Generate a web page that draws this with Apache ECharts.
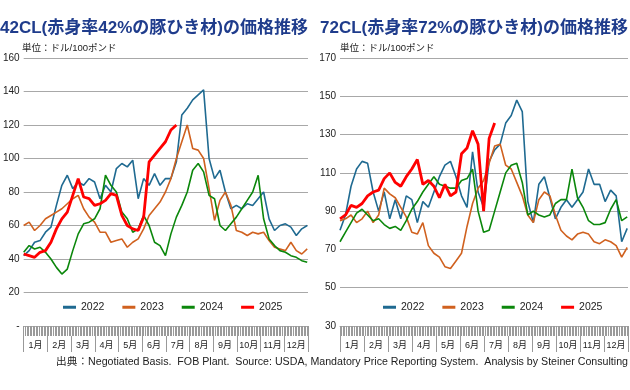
<!DOCTYPE html>
<html><head><meta charset="utf-8">
<script src="https://cdn.jsdelivr.net/npm/echarts@6/dist/echarts.min.js"></script>
<style>html,body{margin:0;padding:0;background:#fff}#c{width:630px;height:390px}</style>
</head><body><div id="c"></div>
<script>
const months = ['1月','2月','3月','4月','5月','6月','7月','8月','9月','10月','11月','12月'];
const years = ['2022','2023','2024','2025'];
const STEP_DAYS = 7;
// 42CL weekly values
const cl42_2022 = [42,45,50,51,56,59,72,84,90,82,86,84,88,86,76,84,80,94,97,95,99,76,88,84,91,84,88,88,98,126,130,135,138,141,100,88,93,80,70,72,70,73,72,76,80,64,57,60,61,59,54,58,60];
const cl42_2023 = [60,62,57,60,64,66,68,70,73,76,78,70,65,62,56,56,50,51,52,47,50,52,58,66,70,74,80,88,100,110,120,106,105,100,82,63,75,80,72,57,56,54,56,55,56,51,47,46,45,50,45,43,46];
const cl42_2024 = [44,48,46,47,44,40,35,31,34,45,55,61,62,64,70,90,84,80,68,64,56,58,66,60,50,48,42,55,65,72,80,93,97,92,78,76,60,57,61,65,70,75,80,90,64,52,48,45,44,42,41,39,38];
const cl42_2025 = [43,42,41,44,45,50,58,64,68,78,88,77,76,72,73,75,79,78,66,60,58,57,65,98,102,106,110,117,120];
// 72CL weekly values
const cl72_2022 = [80,88,103,112,116,115,100,90,100,86,96,86,98,96,84,95,92,100,108,114,116,108,98,92,121,100,92,116,122,125,136,140,148,142,95,84,104,108,97,86,92,96,92,96,100,112,104,104,95,101,98,74,81];
const cl72_2023 = [85,86,88,84,86,90,84,88,102,99,97,92,87,79,78,84,72,68,66,61,60,64,68,82,94,102,106,115,124,125,114,112,105,98,88,84,96,100,98,88,80,77,75,78,79,78,74,73,75,74,72,66,71];
const cl72_2024 = [74,79,84,89,91,88,85,86,83,81,82,80,85,91,95,100,104,108,104,103,102,102,106,107,112,90,79,80,90,100,110,114,115,105,88,90,88,87,88,94,96,96,112,97,92,85,83,83,84,91,96,85,87];
const cl72_2025 = [86,88,93,92,94,98,100,101,107,110,105,103,108,112,117,104,106,103,97,104,98,100,120,123,132,125,90,128,136];

const colors = {'2022':'#1f6a91','2023':'#d0611f','2024':'#0b870b','2025':'#ff0000'};
const widths = {'2022':1.6,'2023':1.6,'2024':1.6,'2025':2.8};
const toPts = arr => arr.map((v,i)=>[i*STEP_DAYS, v]);
const LAT = "'Liberation Sans','Noto Sans CJK JP',sans-serif";

function mkSeries(name, arr, g){
  return {name, type:'line', xAxisIndex:g*2, yAxisIndex:g, data:toPts(arr), showSymbol:false,
    lineStyle:{color:colors[name], width:widths[name]}, itemStyle:{color:colors[name]}, animation:false, z: name==='2025'?5:3};
}
function xAxes(g){
  return [
    {type:'value', gridIndex:g, min:0, max:365, interval:2, position:'bottom',
     axisLine:{show:true, lineStyle:{color:'#aaa'}}, axisTick:{show:true, length:10, lineStyle:{color:'#9a9a9a', width:1}},
     axisLabel:{show:false}, splitLine:{show:false}},
    {type:'category', gridIndex:g, data:months, position:'bottom', offset:10, boundaryGap:true,
     axisLine:{show:false}, axisTick:{show:true, interval:0, length:16, lineStyle:{color:'#999'}},
     axisLabel:{interval:0, fontSize:9, color:'#222', margin:5, fontFamily:LAT}, splitLine:{show:false}}
  ];
}
const titleStyle = {fontSize:17, fontWeight:'bold', color:'#1f3c8c', fontFamily:LAT};
const subStyle = {fontSize:9.5, fontWeight:'normal', color:'#222', fontFamily:LAT};
const legendBase = {data:years, top:302, padding:0, icon:'rect', itemWidth:13, itemHeight:3, itemGap:18, textStyle:{fontSize:10.5, color:'#222', fontFamily:LAT}};
const chart = echarts.init(document.getElementById('c'), null, {renderer:'canvas'});
chart.setOption({
  animation:false,
  textStyle:{fontFamily:LAT},
  title:[
    {text:'42CL(赤身率42%の豚ひき材)の価格推移', left:0, top:20, padding:0, textStyle:titleStyle},
    {text:'72CL(赤身率72%の豚ひき材)の価格推移', left:320, top:20, padding:0, textStyle:titleStyle},
    {text:'単位：ドル/100ポンド', left:22, top:44, padding:0, textStyle:subStyle},
    {text:'単位：ドル/100ポンド', left:340, top:44, padding:0, textStyle:subStyle}
  ],
  legend:[
    Object.assign({left:63}, legendBase),
    Object.assign({left:383}, legendBase)
  ],
  grid:[
    {left:20, right:322, top:58, bottom:64, containLabel:false},
    {left:340, right:2, top:58, bottom:64, containLabel:false}
  ],
  xAxis:[...xAxes(0), ...xAxes(1)],
  yAxis:[
    {type:'value', gridIndex:0, min:0, max:160, interval:20,
     axisLine:{show:false}, axisTick:{show:false},
     axisLabel:{fontSize:10, color:'#222', margin:4, formatter:v=> v===0?'-':String(v)},
     splitLine:{lineStyle:{color:'#a8a8a8', width:1}}},
    {type:'value', gridIndex:1, min:30, max:170, interval:20,
     axisLine:{show:false}, axisTick:{show:false},
     axisLabel:{fontSize:10, color:'#222', margin:4},
     splitLine:{lineStyle:{color:'#a8a8a8', width:1}}}
  ],
  series:[
    mkSeries('2022', cl42_2022, 0), mkSeries('2023', cl42_2023, 0), mkSeries('2024', cl42_2024, 0), mkSeries('2025', cl42_2025, 0),
    mkSeries('2022', cl72_2022, 1), mkSeries('2023', cl72_2023, 1), mkSeries('2024', cl72_2024, 1), mkSeries('2025', cl72_2025, 1)
  ],
  graphic:[
    {type:'text', right:2, top:357, style:{text:'出典：Negotiated Basis.  FOB Plant.  Source: USDA, Mandatory Price Reporting System.  Analysis by Steiner Consulting', font:"10.65px 'Liberation Sans','Noto Sans CJK JP',sans-serif", fill:'#222'}}
  ]
});
</script>
</body></html>
